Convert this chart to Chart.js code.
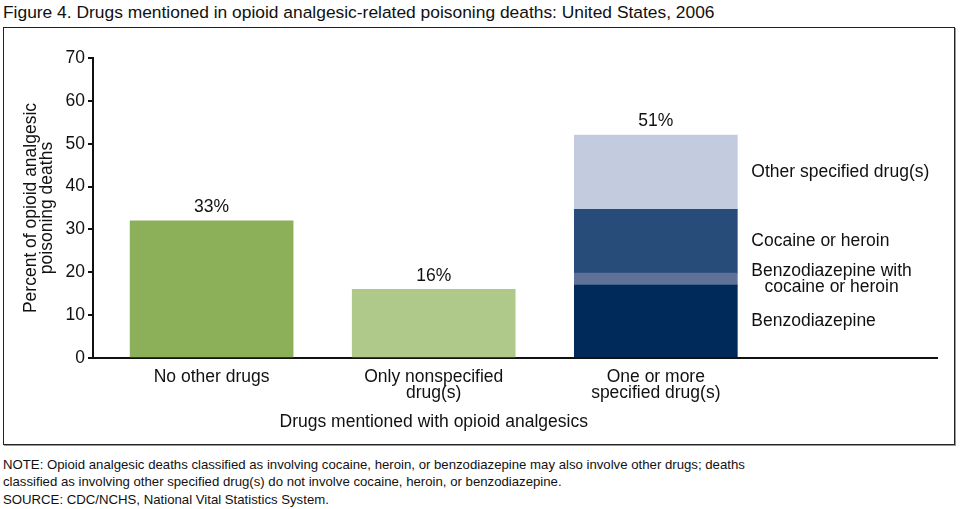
<!DOCTYPE html>
<html>
<head>
<meta charset="utf-8">
<script src="https://cdn.jsdelivr.net/npm/chart.js@4"></script>
<style>
  body { margin: 0; background: #fff; font-family: "Liberation Sans", Arial, sans-serif; color: #111; }
  #title { position: absolute; left: 3px; top: 2px; font-size: 17.4px; white-space: nowrap; }
  #box { position: absolute; left: 3px; top: 27px; width: 950px; height: 416px; border: 1px solid #222; box-shadow: 1px 1px 0 #999; }
  #wrap { position: absolute; left: 1px; top: 1px; width: 948px; height: 414px; }
  #notes { position: absolute; left: 3px; top: 456px; font-size: 13.2px; line-height: 17px; }
  #notes p { margin: 0; }
  #notes .src { margin-top: 1px; }
</style>
</head>
<body>
<div id="title">Figure 4. Drugs mentioned in opioid analgesic-related poisoning deaths: United States, 2006</div>
<div id="box"><div id="wrap"><canvas id="chart"></canvas></div></div>
<div id="notes">
  <p>NOTE: Opioid analgesic deaths classified as involving cocaine, heroin, or benzodiazepine may also involve other drugs; deaths</p>
  <p>classified as involving other specified drug(s) do not involve cocaine, heroin, or benzodiazepine.</p>
  <p class="src">SOURCE: CDC/NCHS, National Vital Statistics System.</p>
</div>
<script>
// categories on the x axis
const categories = [
    ['No other drugs'],
    ['Only nonspecified', 'drug(s)'],
    ['One or more', 'specified drug(s)']
];
const totalLabels = ['33%', '16%', '51%'];

// series values (percent), one value per category
const noOtherDrugs = [32, null, null];
const onlyNonspecified = [null, 16, null];
const benzodiazepine = [null, null, 17];
const benzoWithCocaine = [null, null, 2.8];
const cocaineOrHeroin = [null, null, 14.9];
const otherSpecified = [null, null, 17.3];

const yTicks = [0, 10, 20, 30, 40, 50, 60, 70];
const xAxisTitle = 'Drugs mentioned with opioid analgesics';
const yAxisTitle = ['Percent of opioid analgesic', 'poisoning deaths'];

const FONT = '"Liberation Sans", Arial, sans-serif';
const FS = 17.5;

function toPoints(values) {
    return values.map((v, i) => ({ x: i, y: v }));
}

function makeDataset(label, values, color, segLabel) {
    return {
        label: label,
        data: toPoints(values),
        backgroundColor: color,
        borderWidth: 0,
        barThickness: 163,
        segLabel: segLabel
    };
}

// draws the value labels above bars, segment names and the x axis title
const labelPlugin = {
    id: 'barLabels',
    afterDraw(chart) {
        const ctx = chart.ctx;
        const xScale = chart.scales.x;
        const yScale = chart.scales.y;
        ctx.save();
        ctx.font = FS + 'px ' + FONT;
        ctx.fillStyle = '#111';

        // total on top of each bar
        ctx.textAlign = 'center';
        ctx.textBaseline = 'bottom';
        categories.forEach((c, i) => {
            let total = 0;
            chart.data.datasets.forEach(ds => { total += ds.data[i].y || 0; });
            ctx.fillText(totalLabels[i], xScale.getPixelForValue(i), yScale.getPixelForValue(total) - 5);
        });

        // names of the stacked segments, beside the bar
        ctx.textBaseline = 'middle';
        chart.data.datasets.forEach((ds, di) => {
            if (!ds.segLabel) return;
            const bar = chart.getDatasetMeta(di).data[2];
            const left = bar.x + bar.width / 2 + 14;
            const mid = (bar.y + bar.base) / 2;
            const widest = Math.max(...ds.segLabel.map(t => ctx.measureText(t).width));
            const lh = 16;
            ds.segLabel.forEach((t, k) => {
                ctx.textAlign = 'center';
                ctx.fillText(t, left + widest / 2, mid + (k - (ds.segLabel.length - 1) / 2) * lh);
            });
        });

        // x axis title, centred under the middle category
        ctx.textAlign = 'center';
        ctx.fillText(xAxisTitle, xScale.getPixelForValue(1), 393);
        ctx.restore();
    }
};

new Chart(document.getElementById('chart'), {
    type: 'bar',
    data: {
        datasets: [
            makeDataset('No other drugs', noOtherDrugs, '#8cb05a'),
            makeDataset('Only nonspecified drug(s)', onlyNonspecified, '#afc98b'),
            makeDataset('Benzodiazepine', benzodiazepine, '#002a5a', ['Benzodiazepine']),
            makeDataset('Benzodiazepine with cocaine or heroin', benzoWithCocaine, '#5d7199', ['Benzodiazepine with', 'cocaine or heroin']),
            makeDataset('Cocaine or heroin', cocaineOrHeroin, '#284c7a', ['Cocaine or heroin']),
            makeDataset('Other specified drug(s)', otherSpecified, '#c3cbdf', ['Other specified drug(s)'])
        ]
    },
    options: {
        responsive: true,
        maintainAspectRatio: false,
        animation: false,
        layout: { padding: { top: 29, right: 16, left: 0, bottom: 0 } },
        plugins: {
            legend: { display: false },
            tooltip: { enabled: false }
        },
        scales: {
            x: {
                type: 'linear',
                stacked: true,
                offset: false,
                min: -0.534,
                max: 3.266,
                grid: { display: false, drawTicks: false },
                border: { display: true, color: '#111', width: 2 },
                afterBuildTicks: scale => { scale.ticks = categories.map((c, i) => ({ value: i })); },
                afterFit: scale => { scale.height = 85; },
                ticks: {
                    padding: 11,
                    maxRotation: 0,
                    autoSkip: false,
                    color: '#111',
                    font: { family: FONT, size: FS, lineHeight: '16px' },
                    callback: v => categories[v]
                }
            },
            y: {
                stacked: true,
                min: 0,
                max: 70,
                grid: { drawOnChartArea: false, drawTicks: true, tickLength: 5, color: '#111', lineWidth: 2 },
                border: { display: true, color: '#111', width: 2 },
                afterBuildTicks: scale => { scale.ticks = yTicks.map(v => ({ value: v })); },
                afterFit: scale => { scale.width = 88; },
                ticks: {
                    padding: 3,
                    color: '#111',
                    font: { family: FONT, size: FS }
                },
                title: {
                    display: true,
                    text: yAxisTitle,
                    color: '#111',
                    padding: { top: 18, bottom: 0 },
                    font: { family: FONT, size: FS, lineHeight: '16px' }
                }
            }
        }
    },
    plugins: [labelPlugin]
});
</script>
</body>
</html>
